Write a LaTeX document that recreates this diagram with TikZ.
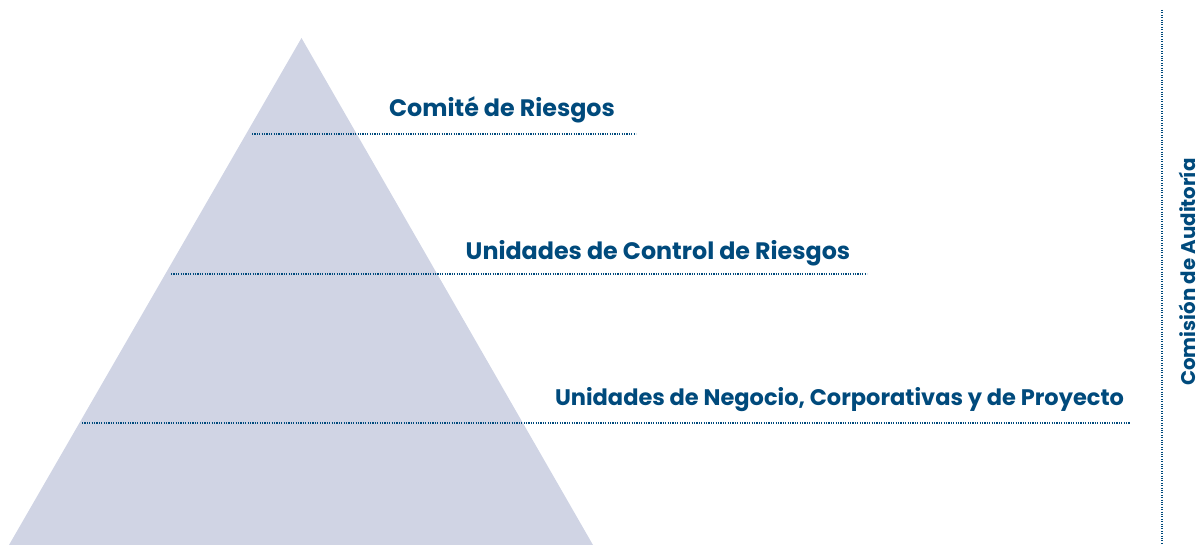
\documentclass[tikz,border=0pt]{standalone}
\usepackage{fontspec}
\setmainfont{Poppins}[BoldFont={* Bold}]
\definecolor{navy}{HTML}{004A7C}
\definecolor{pyr}{HTML}{D0D4E4}
\tikzset{
  lvl/.style={draw=navy, line width=1.1pt, dash pattern=on 1.1pt off 1.3pt},
  lbl/.style={text=navy, font=\bfseries\fontsize{22.5}{24}\selectfont, inner sep=0pt},
  lblb/.style={text=navy, font=\bfseries\fontsize{23.8}{25}\selectfont, inner sep=0pt},
  vlbl/.style={text=navy, font=\bfseries\fontsize{19.8}{21}\selectfont, inner sep=0pt},
}
\begin{document}
\begin{tikzpicture}[x=1pt,y=-1pt]
\useasboundingbox (0,0) rectangle (1203,545);
\fill[pyr] (301.5,38) -- (593,545) -- (9,545) -- cycle;
\coordinate (a1) at (252,134); \coordinate (b1) at (636,134);
\coordinate (a2) at (171,274); \coordinate (b2) at (867,274);
\coordinate (a3) at (82,423); \coordinate (b3) at (1130,423);
\draw[lvl] (a1) -- (b1);
\draw[lvl] (a2) -- (b2);
\draw[lvl] (a3) -- (b3);
\node[lblb, anchor=base] (t1) at (502,117) {Comité de Riesgos};
\node[lblb, anchor=base] (t2) at (658,260) {Unidades de Control de Riesgos};
\node[lbl, anchor=base] (t3) at (839.5,406) {Unidades de Negocio, Corporativas y de Proyecto};
\coordinate (v1) at (1162,10); \coordinate (v2) at (1162,545);
\draw[lvl] (v1) -- (v2);
\node[vlbl, anchor=base, rotate=90] (t4) at (1195,272) {Comisión de Auditoría};
\end{tikzpicture}
\end{document}
